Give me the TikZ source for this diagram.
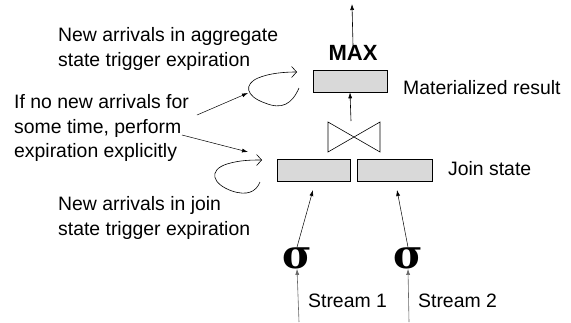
\documentclass[tikz,border=0pt]{standalone}
\usepackage{fontspec}
\setmainfont{Liberation Sans}
\newfontfamily\sigmafont{DejaVu Serif}
\usepackage{tikz}
\usetikzlibrary{arrows.meta, calc, positioning}
\definecolor{boxgray}{RGB}{217,217,217}
\tikzset{
    note/.style={anchor=west, align=left, inner sep=0pt, font=\fontsize{19.4}{24.5}\selectfont},
    flow/.style={-{Latex[length=6pt,width=4pt]}, line width=0.6pt},
    curl/.style={-{Straight Barb[length=5pt,width=11pt]}, line width=0.6pt}
}
\newcommand{\statebox}[4]{
    \node[draw, fill=boxgray, line width=0.6pt, inner sep=0pt, minimum width=#4pt, minimum height=22pt] (#1) at (#2, #3) {};
}
\newcommand{\selop}[3]{
    \node[inner sep=0pt, font=\sigmafont\bfseries\fontsize{40}{40}\selectfont] (#1) at (#2, #3) {σ};
}
\newcommand{\joinop}[3]{
    \coordinate (#1-c) at (#2, #3);
    \coordinate (#1-u) at ($(#1-c) + (-3, -16)$);
    \coordinate (#1-d) at ($(#1-c) + (0, 15)$);
    \draw[line width=0.6pt]
    ($(#1-c) + (-26, -15)$) -- ($(#1-c) + (26, 15)$) -- ($(#1-c) + (26, -15)$) -- ($(#1-c) + (-26, 15)$) -- cycle;
}

\begin{document}
\begin{tikzpicture}[x=1pt, y=-1pt]
                    \useasboundingbox (0, 0) rectangle (571, 322);
                    \statebox{maxbox}{350}{81}{74}
                    \statebox{ljoin}{313.5}{170}{73}
                    \statebox{rjoin}{394.5}{170}{75}
                    \joinop{join}{354}{137}
                    \selop{lsel}{297}{258}
                    \selop{rsel}{408}{258}
                    \node[inner sep=0pt, font=\bfseries\fontsize{22}{22}\selectfont] (max) at (353, 53) {MAX};
                    \coordinate (out) at (352, 4);
                    \coordinate (lin) at (299, 322);
                    \coordinate (rin) at (409, 322);
                    \coordinate (lhit) at (313, 190);
                    \coordinate (rhit) at (397, 190);
                    \node[note] (aggnote) at (58, 49) {New arrivals in aggregate\\state trigger expiration};
                    \node[note] (idlenote) at (14, 128) {If no new arrivals for\\some time, perform\\expiration explicitly};
                    \node[note] (joinnote) at (58, 218) {New arrivals in join\\state trigger expiration};
                    \node[note] (matlabel) at (403, 88) {Materialized result};
                    \node[note] (joinlabel) at (448, 169) {Join state};
                    \node[note] (s1label) at (308, 301) {Stream 1};
                    \node[note] (s2label) at (418, 301) {Stream 2};
                    % points on the two loops
                    \coordinate (aggloop) at (248, 93);
                    \coordinate (joinloop) at (248, 152);
                    \coordinate (idlea) at (197, 115);
                    \coordinate (idleb) at (182, 135);
                    \draw[flow]
                    (max.north) -- (out);
                    \draw[flow]
                    (join-u) -- (maxbox.south);
                    \draw[flow, line width=0.5pt]
                    (lsel.north) -- (lhit);
                    \draw[flow, line width=0.5pt]
                    (rsel.north) -- (rhit);
                    \draw[flow, gray!80!black]
                    (lin) -- (lsel.south);
                    \draw[flow, gray!80!black]
                    (rin) -- (rsel.south);
                    \draw[flow, line width=0.5pt]
                    (idlea) -- (aggloop);
                    \draw[flow, line width=0.5pt]
                    (idleb) -- (joinloop);
                    \draw[curl]
                    (299, 88) .. controls (292, 104) and (282, 110) .. (265, 103) .. controls (245, 96) and (244, 84) .. (258, 78) .. controls (270, 73) and (285, 72) .. (297, 72);
                    \draw[curl]
                    (260, 182) .. controls (256, 192) and (247, 196) .. (232, 191) .. controls (212, 184) and (208, 170) .. (227, 164) .. controls (240, 160) and (252, 160) .. (262, 160);
                \end{tikzpicture}
\end{document}
